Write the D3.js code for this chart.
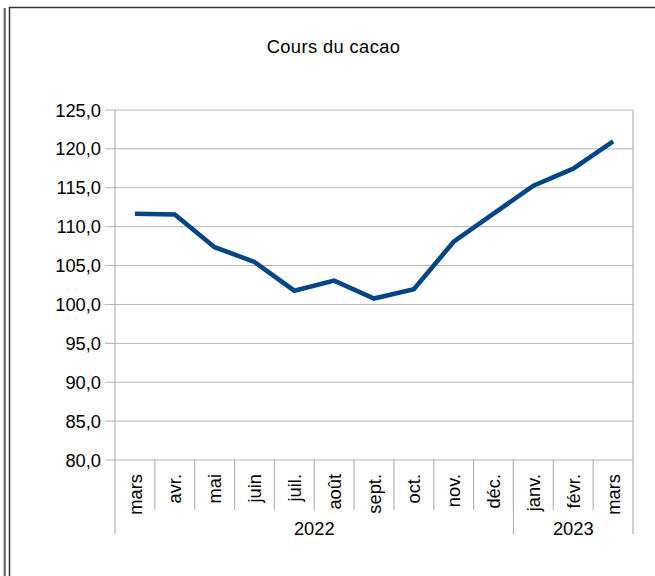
<!DOCTYPE html>
<html>
<head>
<meta charset="utf-8">
<script src="https://cdn.jsdelivr.net/npm/d3@7"></script>
<style>
  html, body { margin: 0; padding: 0; background: #fff; }
  svg { display: block; }
  text { font-family: "Liberation Sans", Arial, sans-serif; fill: #000; }
</style>
</head>
<body>
<svg id="chart" width="655" height="576"></svg>
<script>
const title = "Cours du cacao";
const months = ["mars", "avr.", "mai", "juin", "juil.", "août", "sept.", "oct.", "nov.", "déc.", "janv.", "févr.", "mars"];
const monthYears = ["2022", "2022", "2022", "2022", "2022", "2022", "2022", "2022", "2022", "2022", "2023", "2023", "2023"];
const values = [111.6, 111.5, 107.3, 105.4, 101.7, 103.0, 100.7, 101.9, 108.0, 111.6, 115.2, 117.4, 120.9];
const yTicks = [80, 85, 90, 95, 100, 105, 110, 115, 120, 125];

(function () {
const svg = d3.select("#chart");
const W = 655, H = 576;
const pLeft = 115, pRight = 633, pTop = 109.5, pBottom = 459.5;
const fs = 18.3;

// outer frames
svg.append("line").attr("x1", 4.5).attr("x2", 4.5).attr("y1", 8).attr("y2", H)
  .attr("stroke", "#8a8a8a").attr("stroke-width", 2);
svg.append("line").attr("x1", 5).attr("x2", 5).attr("y1", 8).attr("y2", H)
  .attr("stroke", "#444").attr("stroke-width", 1);
svg.append("path").attr("d", `M9.5,${H} V7.5 H${W}`)
  .attr("fill", "none").attr("stroke", "#333").attr("stroke-width", 1.5);

// title
svg.append("text").attr("x", 333.5).attr("y", 53).attr("text-anchor", "middle")
  .attr("font-size", fs).attr("letter-spacing", 0.4).text(title);

const idx = months.map((m, i) => i);
const x = d3.scaleBand().domain(idx).range([pLeft, pRight]).padding(0);
const y = d3.scaleLinear().domain([80, 125]).range([pBottom, pTop]);

// grid + y axis
const yAxis = d3.axisLeft(y).tickValues(yTicks)
  .tickFormat(d => d3.format(".1f")(d).replace(".", ","))
  .tickSize(10).tickPadding(4);
const gy = svg.append("g").attr("transform", `translate(${pLeft},0)`).call(yAxis);
gy.select(".domain").remove();
gy.selectAll(".tick line").attr("x2", pRight - pLeft).attr("x1", -10).attr("stroke", "#b3b3b3");
gy.selectAll(".tick text").attr("font-size", fs).attr("font-family", "Liberation Sans, Arial, sans-serif")
  .attr("fill", "#000").attr("dy", "0.36em");

// vertical axis lines
svg.append("line").attr("x1", pLeft).attr("x2", pLeft).attr("y1", pTop).attr("y2", 534)
  .attr("stroke", "#b3b3b3").attr("stroke-width", 1.2);
svg.append("line").attr("x1", pRight).attr("x2", pRight).attr("y1", pTop).attr("y2", 534)
  .attr("stroke", "#b3b3b3").attr("stroke-width", 1.2);

// category separators
const inner = idx.slice(1).map(i => x(i));
svg.selectAll("line.catsep").data(inner).enter().append("line").attr("class", "catsep")
  .attr("x1", d => d).attr("x2", d => d).attr("y1", pBottom).attr("y2", 510)
  .attr("stroke", "#b3b3b3").attr("stroke-width", 1.2);

// year groups
const years = Array.from(new Set(monthYears));
const groups = years.map(yr => {
  const ii = idx.filter(i => monthYears[i] === yr);
  return { yr, x0: x(ii[0]), x1: x(ii[ii.length - 1]) + x.bandwidth() };
});
groups.slice(1).forEach(g => {
  svg.append("line").attr("x1", g.x0).attr("x2", g.x0).attr("y1", pBottom).attr("y2", 534)
    .attr("stroke", "#b3b3b3").attr("stroke-width", 1.2);
});
svg.selectAll("text.year").data(groups).enter().append("text").attr("class", "year")
  .attr("x", g => (g.x0 + g.x1) / 2).attr("y", 535).attr("text-anchor", "middle")
  .attr("font-size", fs).text(g => g.yr);

// month labels
svg.selectAll("text.month").data(idx).enter().append("text").attr("class", "month")
  .attr("transform", i => `translate(${x(i) + x.bandwidth() / 2},474) rotate(-90)`)
  .attr("text-anchor", "end").attr("dy", "0.36em").attr("font-size", fs)
  .text(i => months[i]);

// line
const line = d3.line().x(i => x(i) + x.bandwidth() / 2).y(i => y(values[i]));
svg.append("path").datum(idx).attr("d", line).attr("fill", "none")
  .attr("stroke", "#004586").attr("stroke-width", 4.6).attr("stroke-linejoin", "miter");
})();
</script>
</body>
</html>
